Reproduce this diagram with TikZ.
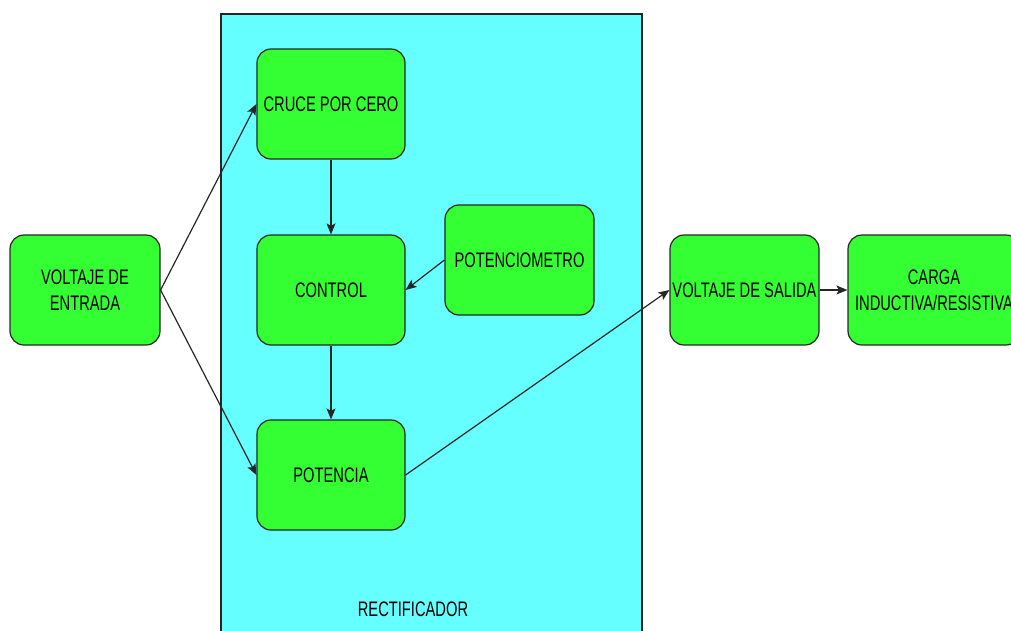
\documentclass[tikz,border=0pt]{standalone}
\usepackage{fontspec}
\setmainfont{Liberation Sans}[FakeStretch=0.7]
\usetikzlibrary{arrows.meta}
\definecolor{boxgreen}{HTML}{33FF33}
\definecolor{rectcyan}{HTML}{66FFFF}
\begin{document}
\begin{tikzpicture}[x=1pt,y=-1pt,
  blk/.style={draw=black!85, line width=1.2pt, fill=boxgreen, rounded corners=14pt,
    minimum height=110pt, inner sep=0pt, align=center,
    font=\fontsize{21}{26}\selectfont},
  conn/.style={draw=black!85, line width=1.2pt, -{Stealth[length=11pt,width=9pt,inset=2.5pt]}}]
\useasboundingbox (0,0) rectangle (1011,630);
\clip (0,0) rectangle (1011,630);
\node[draw=black!85, line width=1.2pt, fill=rectcyan, minimum width=421pt, minimum height=680pt, inner sep=0pt] (rect) at (431.5,354) {};
\node[font=\fontsize{21}{26}\selectfont] (rlab) at (413,609) {RECTIFICADOR};
\node[blk, minimum width=150pt] (in) at (85,290) {VOLTAJE DE\\ENTRADA};
\node[blk, minimum width=148pt] (cruce) at (331,104) {CRUCE POR CERO};
\node[blk, minimum width=148pt] (control) at (331,290) {CONTROL};
\node[blk, minimum width=148pt] (pot) at (331,475) {POTENCIA};
\node[blk, minimum width=149pt] (potm) at (519.5,260) {POTENCIOMETRO};
\node[blk, minimum width=149pt] (out) at (744.5,290) {VOLTAJE DE SALIDA};
\node[blk, minimum width=172pt] (carga) at (934,290) {CARGA\\INDUCTIVA/RESISTIVA};
\draw[conn] (in.east) -- (cruce.west);
\draw[conn] (in.east) -- (pot.west);
\draw[conn] (cruce.south) -- (control.north);
\draw[conn] (control.south) -- (pot.north);
\draw[conn] (potm.west) -- (control.east);
\draw[conn] (pot.east) -- (out.west);
\draw[conn] (out.east) -- (carga.west);
\end{tikzpicture}
\end{document}
